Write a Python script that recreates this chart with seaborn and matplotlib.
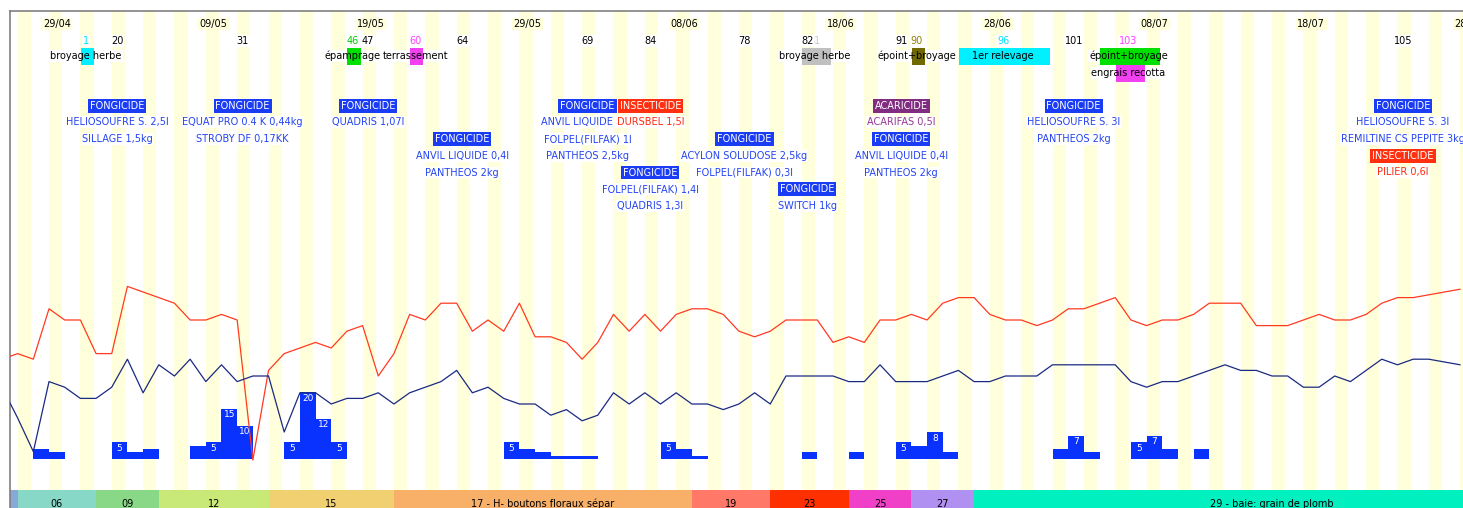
import matplotlib
matplotlib.use('Agg')
import matplotlib.pyplot as plt
import seaborn as sns
import numpy as np

# jours comptés depuis le 29/04 (jour 0)
date_labels = ['29/04', '09/05', '19/05', '29/05', '08/06', '18/06', '28/06', '08/07', '18/07', '28/07']
date_days = [0, 10, 20, 30, 40, 50, 60, 70, 80, 90]

# températures journalières (jours -3 .. 90)
temp_days = list(range(-3, 91))
temp_max = [18, 19, 18, 27, 25, 25, 19, 19, 31, 30, 29, 28, 25, 25, 26, 25, 0, 16, 19, 20,
            21, 20, 23, 24, 15, 19, 26, 25, 28, 28, 23, 25, 23, 28, 22, 22, 21, 18, 21, 26,
            23, 26, 23, 26, 27, 27, 26, 23, 22, 23, 25, 25, 25, 21, 22, 21, 25, 25, 26, 25,
            28, 29, 29, 26, 25, 25, 24, 25, 27, 27, 28, 29, 25, 24, 25, 25, 26, 28, 28, 28,
            24, 24, 24, 25, 26, 25, 25, 26, 28, 29, 29, 29.5, 30, 30.5]
temp_min = [13, 7.5, 1.5, 14, 13, 11, 11, 13, 18, 12, 17, 15, 18, 14, 17, 14, 15, 15, 5, 12,
            12, 10, 11, 11, 12, 10, 12, 13, 14, 16, 12, 13, 11, 10, 10, 8, 9, 7, 8, 12,
            10, 12, 10, 12, 10, 10, 9, 10, 12, 10, 15, 15, 15, 15, 14, 14, 17, 14, 14, 14,
            15, 16, 14, 14, 15, 15, 15, 17, 17, 17, 17, 17, 14, 13, 14, 14, 15, 16, 17, 16,
            16, 15, 15, 13, 13, 15, 14, 16, 18, 17, 18, 18, 17.5, 17]

# pluie (mm)
rain_days = [-1, 0, 4, 5, 6, 9, 10, 11, 12, 15, 16, 17, 18, 29, 30, 31, 32, 33, 34, 39, 40, 41,
             48, 51, 54, 55, 56, 57, 64, 65, 66, 69, 70, 71, 73]
rain_mm = [3, 2, 5, 2, 3, 4, 5, 15, 10, 5, 20, 12, 5, 5, 3, 2, 1, 1, 1, 5, 3, 1,
           2, 2, 5, 4, 8, 2, 3, 7, 2, 5, 7, 3, 3]

# stades phénologiques
stage_labels = ['', '06', '09', '12', '15', '17 - H- boutons floraux sépar', '19', '23', '25', '27',
                '29 - baie: grain de plomb']
stage_start = [-3, -2, 3, 7, 14, 22, 41, 46, 51, 55, 59]
stage_end = [-3, 2, 6, 13, 21, 40, 45, 50, 54, 58, 96]
stage_colors = ['#88a8d8', '#88d8c8', '#88d888', '#c8e878', '#f0d070', '#f8b068', '#ff7868',
                '#ff3000', '#f040c8', '#b090f0', '#00f0c0']

# travaux
op_labels = ['broyage herbe', 'épamprage', 'terrassement', 'broyage herbe', 'époint+broyage',
             '1er relevage', 'époint+broyage', 'engrais recotta']
op_start = [2, 19, 23, 48, 55, 58, 67, 68]
op_end = [2, 19, 23, 49, 55, 63, 70, 69]
op_row = [0, 0, 0, 0, 0, 0, 0, 1]
op_colors = ['#00f0ff', '#00e000', '#f040f0', '#c0c0c0', '#706800', '#00f0ff', '#00e000', '#f040f0']
op_numbers = ['1', '46', '60', '81', '90', '96', '', '103']
op_num_colors = ['#00e0ff', '#00d000', '#ff40ff', '#c8c8c8', '#908000', '#00e0ff', 'black', '#ff40ff']

# traitements
tr_day = [4, 12, 20, 26, 34, 38, 38, 44, 48, 54, 54, 65, 86, 86]
tr_type = ['FONGICIDE', 'FONGICIDE', 'FONGICIDE', 'FONGICIDE', 'FONGICIDE', 'INSECTICIDE',
           'FONGICIDE', 'FONGICIDE', 'FONGICIDE', 'ACARICIDE', 'FONGICIDE', 'FONGICIDE',
           'FONGICIDE', 'INSECTICIDE']
tr_products = [
    ['HELIOSOUFRE S. 2,5l', 'SILLAGE 1,5kg'],
    ['EQUAT PRO 0.4 K 0,44kg', 'STROBY DF 0,17KK'],
    ['QUADRIS 1,07l'],
    ['ANVIL LIQUIDE 0,4l', 'PANTHEOS 2kg'],
    ['ANVIL LIQUIDE 0,4l', 'FOLPEL(FILFAK) 1l', 'PANTHEOS 2,5kg'],
    ['DURSBEL 1,5l'],
    ['FOLPEL(FILFAK) 1,4l', 'QUADRIS 1,3l'],
    ['ACYLON SOLUDOSE 2,5kg', 'FOLPEL(FILFAK) 0,3l'],
    ['SWITCH 1kg'],
    ['ACARIFAS 0,5l'],
    ['ANVIL LIQUIDE 0,4l', 'PANTHEOS 2kg'],
    ['HELIOSOUFRE S. 3l', 'PANTHEOS 2kg'],
    ['HELIOSOUFRE S. 3l', 'REMILTINE CS PEPITE 3kg'],
    ['PILIER 0,6l'],
]
tr_row = [0, 0, 0, 2, 0, 0, 4, 2, 5, 0, 2, 0, 0, 3]
tr_number = ['20', '31', '47', '64', '69', '84', '', '78', '82', '91', '', '101', '105', '']

type_bg = {'FONGICIDE': '#1a3cf5', 'INSECTICIDE': '#ff3010', 'ACARICIDE': '#802c80'}
type_fg = {'FONGICIDE': '#2444f0', 'INSECTICIDE': '#ff2a10', 'ACARICIDE': '#963696'}

sns.set_style('white')
plt.rcParams['font.family'] = ['DejaVu Sans']

W, H = 1463, 508
fig = plt.figure(figsize=(W / 100, H / 100), dpi=100)
ax = fig.add_axes([9.5 / W, 0, 1 - 9.5 / W, 1 - 11 / H])
ax.set_xlim(-3.02, 89.68)
ax.set_ylim(508, 11)  # coordonnées verticales en pixels pour la mise en page
ax.set_xticks([])
ax.set_yticks([])
for s in ['right', 'bottom']:
    ax.spines[s].set_visible(False)
for s in ['top', 'left']:
    ax.spines[s].set_color('#808080')
    ax.spines[s].set_linewidth(1.2)

fs = 7
dx = -0.15
yellow = '#ffffdc'

# bandes jaunes un jour sur deux
stripe_days = np.arange(-2, 92, 2)
ax.bar(stripe_days - 0.5, 490 - 11, bottom=11, width=0.85, align='edge', color=yellow, lw=0, zorder=0)

# stades
for lab, s, e, c in zip(stage_labels, stage_start, stage_end, stage_colors):
    ax.bar(s - 0.5, 20, bottom=490, width=e - s + 1, align='edge', color=c, lw=0, zorder=1)
    if lab:
        ax.text((s + e) / 2, 504, lab, ha='center', va='center', fontsize=fs, color='black')

# dates
for lab, d in zip(date_labels, date_days):
    ax.text(d, 24, lab, ha='center', va='center', fontsize=fs, color='black', zorder=3,
            bbox=dict(boxstyle='square,pad=0.15', fc=yellow, ec='none'))

# travaux
op_y = [56, 73]
for lab, s, e, r, c, num, nc in zip(op_labels, op_start, op_end, op_row, op_colors, op_numbers, op_num_colors):
    xc = (s + e) / 2 + dx
    y = op_y[r]
    ax.text(xc, y, lab, ha='center', va='center', fontsize=fs, color='white', zorder=3,
            bbox=dict(boxstyle='square,pad=0.1', fc='white', ec='none'))
    ax.bar(s - 0.47, 16.5, bottom=y - 8, width=e - s + 0.84, align='edge', color=c, lw=0, zorder=4)
    ax.text(xc, y, lab, ha='center', va='center', fontsize=fs, color='black', zorder=5)
    if num:
        ax.text(xc, 41, num, ha='center', va='center', fontsize=fs, color=nc, zorder=6,
                bbox=dict(boxstyle='square,pad=0.1', fc='white', ec='none'))

# traitements
row_y = 105.7 + 16.7 * np.arange(8)
for d, t, prods, r, num in zip(tr_day, tr_type, tr_products, tr_row, tr_number):
    xc = d + dx
    ax.text(xc, row_y[r], t, ha='center', va='center', fontsize=fs, color='white', zorder=6,
            bbox=dict(boxstyle='square,pad=0.2', fc=type_bg[t], ec='none'))
    for k, p in enumerate(prods):
        ax.text(xc, row_y[r + 1 + k], p, ha='center', va='center', fontsize=fs, color=type_fg[t],
                zorder=6, bbox=dict(boxstyle='square,pad=0.1', fc='white', ec='none'))
    if num:
        ax.text(xc, 41, num, ha='center', va='center', fontsize=fs, color='black', zorder=7,
                bbox=dict(boxstyle='square,pad=0.1', fc='white', ec='none'))

# pluie
ax_r = ax.twinx()
ax_r.axis('off')
ax_r.set_ylim((459 - 508) / 3.35, (459 - 11) / 3.35)
ax_r.bar(rain_days, rain_mm, width=1.0, color='#0a32ff', lw=0)
for d, mm in zip(rain_days, rain_mm):
    if mm >= 5:
        ax_r.text(d, mm - 1.8, str(mm), ha='center', va='center', fontsize=6.5, color='white')

# températures
ax_t = ax.twinx()
ax_t.axis('off')
ax_t.set_ylim((460 - 508) / 5.6, (460 - 11) / 5.6)
x_t = np.array(temp_days) - 0.5
sns.lineplot(x=x_t, y=temp_max, ax=ax_t, color='#ff3a20', lw=0.9)
sns.lineplot(x=x_t, y=temp_min, ax=ax_t, color='#1a2a80', lw=0.9)
ax_t.set_xlim(-3.02, 89.68)
ax_r.set_xlim(-3.02, 89.68)

fig.savefig('out.png', dpi=100)
